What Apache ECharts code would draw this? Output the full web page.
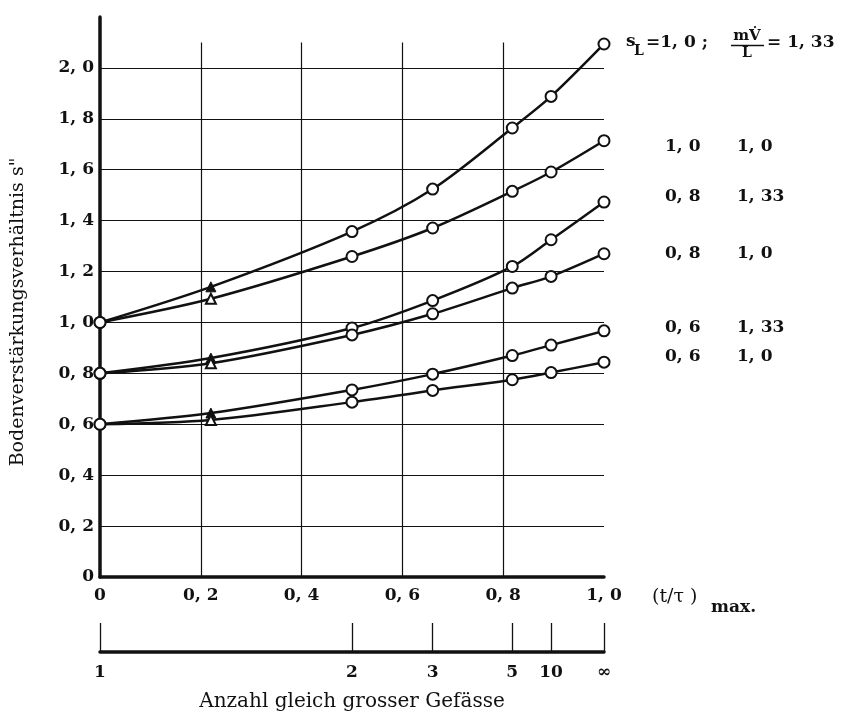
<!DOCTYPE html>
<html>
<head>
<meta charset="utf-8">
<script src="https://cdn.jsdelivr.net/npm/echarts@6/dist/echarts.min.js"></script>
<style>
  html, body { margin: 0; padding: 0; background: #fff; }
  #main { width: 843px; height: 713px; }
</style>
</head>
<body>
<div id="main"></div>
<script>
// x-Positionen der Messpunkte (t/tau)max, entspricht 1,2,3,5,10,unendlich Gefaessen
var xPts = [0, 0.5, 0.66, 0.818, 0.895, 1.0];
var triX = 0.22;
var vesselLabels = ['1', '2', '3', '5', '10', '\u221E'];

// Kurven: s_L / mV/L
var c1 = [1.0, 1.357, 1.524, 1.764, 1.888, 2.094];   // 1,0  1,33
var c2 = [1.0, 1.259, 1.371, 1.515, 1.591, 1.714];   // 1,0  1,0
var c3 = [0.8, 0.978, 1.086, 1.220, 1.325, 1.473];   // 0,8  1,33
var c4 = [0.8, 0.951, 1.034, 1.135, 1.181, 1.270];   // 0,8  1,0
var c5 = [0.6, 0.735, 0.797, 0.870, 0.911, 0.967];   // 0,6  1,33
var c6 = [0.6, 0.687, 0.733, 0.775, 0.803, 0.844];   // 0,6  1,0
var triVals = [1.14, 1.093, 0.86, 0.84, 0.644, 0.617];
var triFilled = [true, false, true, false, true, false];

var yTicks = [0.2, 0.4, 0.6, 0.8, 1.0, 1.2, 1.4, 1.6, 1.8, 2.0];
var xTicks = [0.2, 0.4, 0.6, 0.8, 1.0];

var SERIF = '"DejaVu Serif", "Liberation Serif", serif';
var INK = '#111';

function fmt(v){
    if (v === 0) return '0';
    return v.toFixed(1).replace('.', ', ');
}

function makeSeries(ys, idx){
    var data = [];
    for (var i = 0; i < xPts.length; i++) {
        data.push([xPts[i], ys[i]]);
        if (i === 0) {
            data.push({
                value: [triX, triVals[idx]],
                symbol: 'triangle',
                symbolSize: 10,
                itemStyle: triFilled[idx]
                    ? {color: INK, borderColor: INK, borderWidth: 1}
                    : {color: '#fff', borderColor: INK, borderWidth: 2}
            });
        }
    }
    return {
        type: 'line',
        data: data,
        smooth: 0.3,
        symbol: 'circle',
        symbolSize: 11,
        z: 3,
        itemStyle: {color: '#fff', borderColor: INK, borderWidth: 2},
        lineStyle: {color: INK, width: 2.5},
        silent: true
    };
}

var gridLines = [];
yTicks.forEach(function(v){
    gridLines.push([{coord: [0, v]}, {coord: [1, v]}]);
});
xTicks.forEach(function(x){
    var top = x === 1.0 ? 2.21 : 2.1;
    gridLines.push([{coord: [x, 0]}, {coord: [x, top]}]);
});

var series = [c1, c2, c3, c4, c5, c6].map(makeSeries);
series.push({
    type: 'line',
    data: [],
    silent: true,
    markLine: {
        silent: true,
        z: 1,
        symbol: ['none', 'none'],
        label: {show: false},
        lineStyle: {color: INK, width: 1.2, type: 'solid'},
        data: gridLines
    }
});

var legendRows = [
    {y: 147, a: '1, 0', b: '1, 0'},
    {y: 197, a: '0, 8', b: '1, 33'},
    {y: 254, a: '0, 8', b: '1, 0'},
    {y: 328, a: '0, 6', b: '1, 33'},
    {y: 357, a: '0, 6', b: '1, 0'}
];

var graphics = [];
function txt(x, y, s, size, weight, align){
    graphics.push({
        type: 'text', x: x, y: y, silent: true,
        style: {
            text: s, fill: INK,
            font: (weight || 'normal') + ' ' + size + 'px ' + SERIF,
            align: align || 'left', verticalAlign: 'middle'
        }
    });
}
legendRows.forEach(function(r){
    txt(665, r.y, r.a, 17, 'bold');
    txt(737, r.y, r.b, 17, 'bold');
});
// erste Legendenzeile mit Bruch
txt(626, 42, 's', 17, 'bold');
txt(634, 51, 'L', 14, 'bold');
txt(646, 43, '=1, 0 ;', 17, 'bold');
txt(747, 36, 'mV\u0307', 15, 'bold', 'center');
txt(747, 53, 'L', 14, 'bold', 'center');
txt(767, 43, '= 1, 33', 17, 'bold');
graphics.push({
    type: 'line', silent: true,
    shape: {x1: 731, y1: 45.5, x2: 764, y2: 45.5},
    style: {stroke: INK, lineWidth: 1.5}
});
// Achsentitel
txt(652, 597, '(t/\u03C4 )', 19, 'normal');
txt(711, 608, 'max.', 17, 'bold');
graphics.push({
    type: 'text', x: 18, y: 312, rotation: Math.PI / 2, silent: true,
    style: {
        text: 'Bodenverst\u00E4rkungsverh\u00E4ltnis s"', fill: INK,
        font: 'normal 19px ' + SERIF, align: 'center', verticalAlign: 'middle'
    }
});

var myChart = echarts.init(document.getElementById('main'));
var option = {
    backgroundColor: '#fff',
    animation: false,
    grid: [
        {left: 100, right: 239, top: 17, bottom: 136},
        {left: 100, right: 239, top: 622, bottom: 61}
    ],
    xAxis: [{
        type: 'value', gridIndex: 0, min: 0, max: 1, interval: 0.2,
        axisLine: {lineStyle: {color: INK, width: 3.5}},
        axisTick: {show: false},
        splitLine: {show: false},
        axisLabel: {
            margin: 10, color: INK, fontFamily: SERIF, fontSize: 17, fontWeight: 'bold',
            formatter: fmt
        }
    }, {
        type: 'value', gridIndex: 1, min: 0, max: 1,
        axisLine: {lineStyle: {color: INK, width: 3.5}},
        axisTick: {
            inside: true, length: 29, customValues: xPts,
            lineStyle: {color: INK, width: 1.3}
        },
        splitLine: {show: false},
        axisLabel: {
            margin: 12, color: INK, fontFamily: SERIF, fontSize: 17, fontWeight: 'bold',
            customValues: xPts,
            formatter: function(v){
                var i = xPts.indexOf(v);
                return i >= 0 ? vesselLabels[i] : '';
            }
        },
        name: 'Anzahl gleich grosser Gef\u00E4sse',
        nameLocation: 'middle',
        nameGap: 40,
        nameTextStyle: {color: INK, fontFamily: SERIF, fontSize: 20}
    }],
    yAxis: [{
        type: 'value', gridIndex: 0, min: 0, max: 2.2, interval: 0.2,
        axisLine: {show: true, lineStyle: {color: INK, width: 3.5}},
        axisTick: {show: false},
        splitLine: {show: false},
        axisLabel: {
            margin: 6, color: INK, fontFamily: SERIF, fontSize: 17, fontWeight: 'bold',
            formatter: function(v){ return v > 2.05 ? '' : fmt(v); }
        }
    }, {
        type: 'value', gridIndex: 1, min: 0, max: 1, show: false
    }],
    graphic: graphics,
    series: series
};
myChart.setOption(option);
</script>
</body>
</html>
